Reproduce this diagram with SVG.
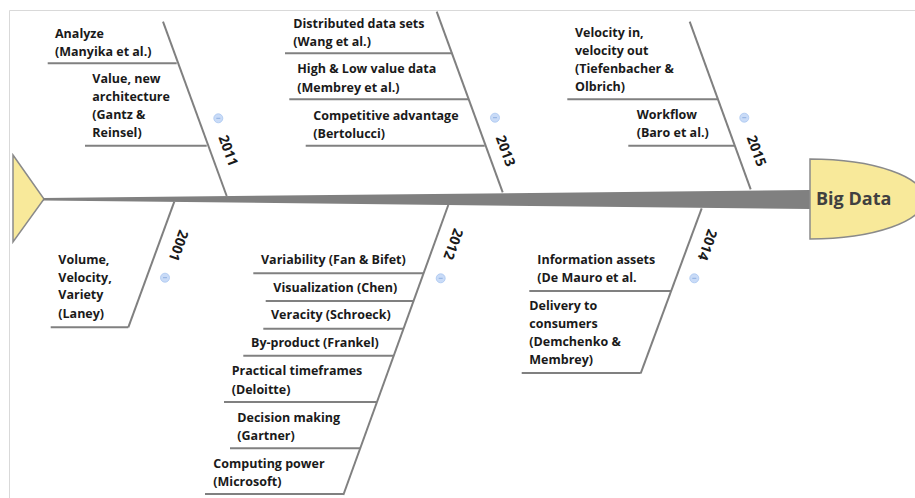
<svg xmlns="http://www.w3.org/2000/svg" width="915" height="498" viewBox="0 0 915 498">
<style>
  .t{font-family:"Open Sans","Noto Sans","Liberation Sans",sans-serif;font-weight:700;font-size:12.5px;fill:#1a1a1a}
  .yr{font-family:"Open Sans","Noto Sans","Liberation Sans",sans-serif;font-weight:700;font-size:14px;fill:#1a1a1a}
  .bone{stroke:#808080;stroke-width:2;fill:none}
  .ul{stroke:#808080;stroke-width:2;fill:none}
  .frame{stroke:#d9d9d9;stroke-width:1;fill:none}
</style>
<defs>
  <g id="tog">
    <circle r="4.5" fill="#c9dbf7" stroke="#aac6f0" stroke-width="0.8"/>
    <line x1="-2" y1="0" x2="2" y2="0" stroke="#8fb0e0" stroke-width="1"/>
  </g>
</defs>
<rect width="915" height="498" fill="#ffffff"/>
<path class="frame" d="M9.5,498 V10.5 H915"/>

<g id="tail">
  <polygon points="13,155 44,199 13,242" fill="#f8e99a" stroke="#8a8a8a" stroke-width="1.5"/>
</g>

<g id="connectors">
  <polygon points="43,198 810,190 810,209 43,200.5" fill="#808080"/>
  <line class="bone" x1="163" y1="21.7" x2="226.7" y2="196"/>
  <line class="bone" x1="436.7" y1="11.7" x2="502.7" y2="192.3"/>
  <line class="bone" x1="689.7" y1="21.7" x2="750.7" y2="189.3"/>
  <line class="bone" x1="174.3" y1="201.7" x2="128.3" y2="327.3"/>
  <line class="bone" x1="448.3" y1="205" x2="343.3" y2="495"/>
  <line class="bone" x1="701.7" y1="208.3" x2="640.7" y2="373.3"/>
</g>

<g id="head">
  <path d="M810,159 A115,40 0 0 1 810,239 Z" fill="#f8e99a" stroke="#8a8a8a" stroke-width="1.5"/>
  <text x="816" y="205" style="font-family:'Open Sans','Noto Sans','Liberation Sans',sans-serif;font-weight:700;font-size:18px;fill:#404040">Big Data</text>
</g>

<!-- 2011 -->
<g id="y2011">
  <text class="yr" transform="translate(228.3,150.5) rotate(70)" text-anchor="middle" dy="0.35em">2011</text>
  <use href="#tog" x="218.3" y="118.3"/>
</g>
<g id="analyze">
  <line class="ul" x1="47.7" y1="63.3" x2="176.7" y2="63.3"/>
  <text class="t" x="55" y="37.7">Analyze</text>
  <text class="t" x="55" y="55.5">(Manyika et al.)</text>
</g>
<g id="value">
  <line class="ul" x1="85" y1="145.7" x2="206.7" y2="145.7"/>
  <text class="t" x="92.3" y="83.3">Value, new</text>
  <text class="t" x="92.3" y="101">architecture</text>
  <text class="t" x="92.3" y="119">(Gantz &amp;</text>
  <text class="t" x="92.3" y="136.7">Reinsel)</text>
</g>

<!-- 2013 -->
<g id="y2013">
  <text class="yr" transform="translate(505.5,150.8) rotate(70)" text-anchor="middle" dy="0.35em">2013</text>
  <use href="#tog" x="495" y="117.7"/>
</g>
<g id="distributed">
  <line class="ul" x1="285" y1="53.3" x2="452.3" y2="53.3"/>
  <text class="t" x="293.3" y="27.7">Distributed data sets</text>
  <text class="t" x="293.3" y="45.7">(Wang et al.)</text>
</g>
<g id="highlow">
  <line class="ul" x1="289.3" y1="99.3" x2="469" y2="99.3"/>
  <text class="t" x="297.3" y="73.3">High &amp; Low value data</text>
  <text class="t" x="297.3" y="91.7">(Membrey et al.)</text>
</g>
<g id="competitive">
  <line class="ul" x1="305.7" y1="145.7" x2="484.7" y2="145.7"/>
  <text class="t" x="313.3" y="120">Competitive advantage</text>
  <text class="t" x="313.3" y="137.7">(Bertolucci)</text>
</g>

<!-- 2015 -->
<g id="y2015">
  <text class="yr" transform="translate(756.5,150.8) rotate(70)" text-anchor="middle" dy="0.35em">2015</text>
  <use href="#tog" x="744.3" y="117.7"/>
</g>
<g id="velocity">
  <line class="ul" x1="567.3" y1="99.3" x2="717.7" y2="99.3"/>
  <text class="t" x="575" y="37.3">Velocity in,</text>
  <text class="t" x="575" y="55">velocity out</text>
  <text class="t" x="575" y="73.3">(Tiefenbacher &amp;</text>
  <text class="t" x="575" y="91">Olbrich)</text>
</g>
<g id="workflow">
  <line class="ul" x1="628.3" y1="145.7" x2="734.3" y2="145.7"/>
  <text class="t" x="636.7" y="119.3">Workflow</text>
  <text class="t" x="636.7" y="137.3">(Baro et al.)</text>
</g>

<!-- 2001 -->
<g id="y2001">
  <text class="yr" transform="translate(178.7,245.7) rotate(110)" text-anchor="middle" dy="0.35em">2001</text>
  <use href="#tog" x="165" y="277.7"/>
</g>
<g id="vvv">
  <line class="ul" x1="50.7" y1="327.3" x2="128.3" y2="327.3"/>
  <text class="t" x="58.3" y="264">Volume,</text>
  <text class="t" x="58.3" y="281.7">Velocity,</text>
  <text class="t" x="58.3" y="299.3">Variety</text>
  <text class="t" x="58.3" y="317.7">(Laney)</text>
</g>

<!-- 2012 -->
<g id="y2012">
  <text class="yr" transform="translate(453.3,244.2) rotate(110)" text-anchor="middle" dy="0.35em">2012</text>
  <use href="#tog" x="440.7" y="278.3"/>
</g>
<g id="variability">
  <line class="ul" x1="253.3" y1="273.3" x2="423.6" y2="273.3"/>
  <text class="t" x="261" y="264">Variability (Fan &amp; Bifet)</text>
</g>
<g id="visualization">
  <line class="ul" x1="265.7" y1="301" x2="413.5" y2="301"/>
  <text class="t" x="273.3" y="291.7">Visualization (Chen)</text>
</g>
<g id="veracity">
  <line class="ul" x1="263.3" y1="328.7" x2="403.5" y2="328.7"/>
  <text class="t" x="271" y="319.3">Veracity (Schroeck)</text>
</g>
<g id="byproduct">
  <line class="ul" x1="243.3" y1="355.7" x2="393.7" y2="355.7"/>
  <text class="t" x="251" y="347.3">By-product (Frankel)</text>
</g>
<g id="practical">
  <line class="ul" x1="224" y1="402" x2="376.8" y2="402"/>
  <text class="t" x="231.7" y="375.3">Practical timeframes</text>
  <text class="t" x="231.7" y="394">(Deloitte)</text>
</g>
<g id="decision">
  <line class="ul" x1="230" y1="448.3" x2="360" y2="448.3"/>
  <text class="t" x="237.3" y="421.7">Decision making</text>
  <text class="t" x="237.3" y="440">(Gartner)</text>
</g>
<g id="computing">
  <line class="ul" x1="205" y1="494" x2="343.8" y2="494"/>
  <text class="t" x="213.3" y="467.7">Computing power</text>
  <text class="t" x="213.3" y="486">(Microsoft)</text>
</g>

<!-- 2014 -->
<g id="y2014">
  <text class="yr" transform="translate(707.5,245) rotate(110)" text-anchor="middle" dy="0.35em">2014</text>
  <use href="#tog" x="694.3" y="278.3"/>
</g>
<g id="information">
  <line class="ul" x1="529.3" y1="291" x2="671" y2="291"/>
  <text class="t" x="537.3" y="264">Information assets</text>
  <text class="t" x="537.3" y="282.3">(De Mauro et al.</text>
</g>
<g id="delivery">
  <line class="ul" x1="521.7" y1="373" x2="640.7" y2="373"/>
  <text class="t" x="529.3" y="310">Delivery to</text>
  <text class="t" x="529.3" y="327.7">consumers</text>
  <text class="t" x="529.3" y="345.7">(Demchenko &amp;</text>
  <text class="t" x="529.3" y="364">Membrey)</text>
</g>
</svg>
